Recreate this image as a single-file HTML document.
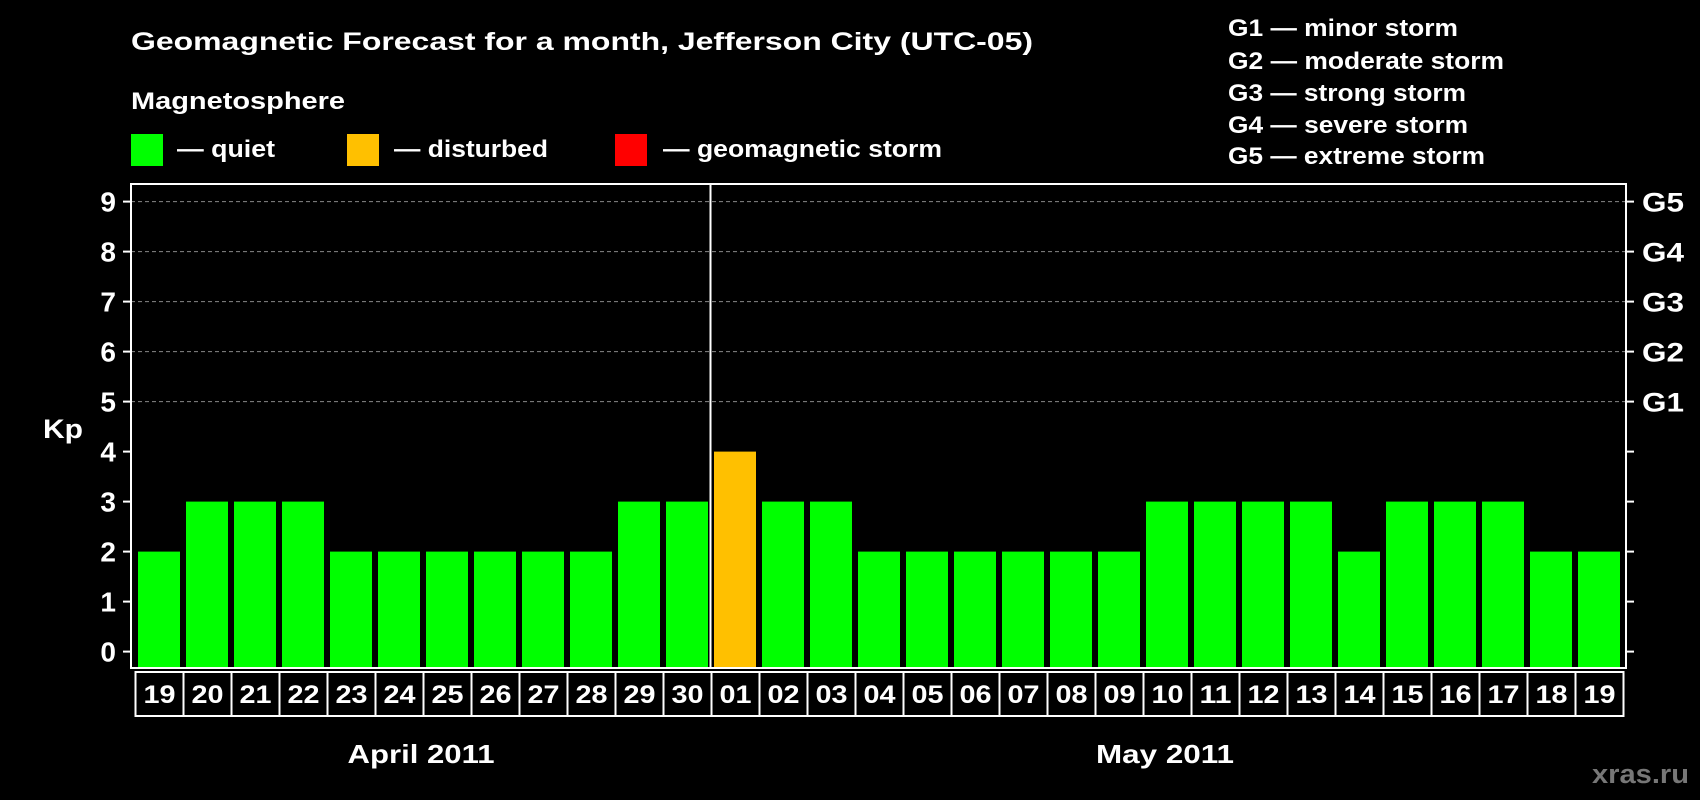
<!DOCTYPE html>
<html><head><meta charset="utf-8"><style>
html,body{margin:0;padding:0;background:#000;}
svg{display:block;font-family:"Liberation Sans",Arial,sans-serif;font-weight:bold;}
</style></head><body>
<svg id="chart" width="1700" height="800" viewBox="0 0 1700 800">
<rect x="0" y="0" width="1700" height="800" fill="#000"/>
<text x="131" y="50" fill="#fff" font-size="25" textLength="902" lengthAdjust="spacingAndGlyphs">Geomagnetic Forecast for a month, Jefferson City (UTC-05)</text>
<text x="131" y="109" fill="#fff" font-size="24" textLength="214" lengthAdjust="spacingAndGlyphs">Magnetosphere</text>
<g>
<rect x="131" y="134" width="32" height="32" fill="#00ff00"/>
<text x="177" y="157" fill="#fff" font-size="24" textLength="98" lengthAdjust="spacingAndGlyphs">— quiet</text></g>
<g>
<rect x="347" y="134" width="32" height="32" fill="#ffc000"/>
<text x="394" y="157" fill="#fff" font-size="24" textLength="154" lengthAdjust="spacingAndGlyphs">— disturbed</text></g>
<g>
<rect x="615" y="134" width="32" height="32" fill="#ff0000"/>
<text x="663" y="157" fill="#fff" font-size="24" textLength="279" lengthAdjust="spacingAndGlyphs">— geomagnetic storm</text></g>
<g fill="#fff" font-size="24">
<text x="1228" y="36" textLength="230" lengthAdjust="spacingAndGlyphs">G1 — minor storm</text>
<text x="1228" y="69" textLength="276" lengthAdjust="spacingAndGlyphs">G2 — moderate storm</text>
<text x="1228" y="101" textLength="238" lengthAdjust="spacingAndGlyphs">G3 — strong storm</text>
<text x="1228" y="133" textLength="240" lengthAdjust="spacingAndGlyphs">G4 — severe storm</text>
<text x="1228" y="164" textLength="257" lengthAdjust="spacingAndGlyphs">G5 — extreme storm</text>
</g>
<text x="43" y="438" fill="#fff" font-size="27" textLength="40" lengthAdjust="spacingAndGlyphs">Kp</text>
<g id="plot"></g>
<text x="421" y="763" fill="#fff" font-size="26" text-anchor="middle" textLength="147" lengthAdjust="spacingAndGlyphs">April 2011</text>
<text x="1165" y="763" fill="#fff" font-size="26" text-anchor="middle" textLength="138" lengthAdjust="spacingAndGlyphs">May 2011</text>
<text x="1689" y="783" fill="#777" font-size="27" text-anchor="end" textLength="97" lengthAdjust="spacingAndGlyphs">xras.ru</text>
</svg>
<script>
const days = ["19","20","21","22","23","24","25","26","27","28","29","30","01","02","03","04","05","06","07","08","09","10","11","12","13","14","15","16","17","18","19"];
const kpValues = [2,3,3,3,2,2,2,2,2,2,3,3,4,3,3,2,2,2,2,2,2,3,3,3,3,2,3,3,3,2,2];
const yTicks = [0,1,2,3,4,5,6,7,8,9];
const gLabels = ["G1","G2","G3","G4","G5"];
const gLevels = [5,6,7,8,9];

const NS="http://www.w3.org/2000/svg";
const plotG=document.getElementById('plot');
const plotLeft=131,plotRight=1626,plotTop=184,plotBottom=668;
const x0=135.5, slot=48;
function yScale(v){return 651.6 - v*50;}
function xs(i){return x0+i*slot;}
function mk(t,a){const e=document.createElementNS(NS,t);for(const k in a)e.setAttribute(k,a[k]);plotG.appendChild(e);return e;}
function color(v){return v>=5?"#ff0000":(v>=4?"#ffc000":"#00ff00");}

yTicks.forEach(v=>{
  if(v>=5){const l=mk('line',{x1:plotLeft,x2:plotRight,y1:yScale(v),y2:yScale(v),stroke:'#888','stroke-width':1,'stroke-dasharray':'4,3'});
  
  }
  const t1=mk('line',{x1:plotLeft-8,x2:plotLeft,y1:yScale(v),y2:yScale(v),stroke:'#fff','stroke-width':2});
  
  
  const t2=mk('line',{x1:plotRight,x2:plotRight+8,y1:yScale(v),y2:yScale(v),stroke:'#fff','stroke-width':2});
  
  
  const tx=mk('text',{x:116,y:yScale(v)+10,fill:'#fff','font-size':28,'text-anchor':'end'});
  tx.textContent=v;
  
  
});
gLabels.forEach((s,i)=>{
  const tx=mk('text',{x:1642,y:yScale(gLevels[i])+10,fill:'#fff','font-size':27,textLength:42,lengthAdjust:'spacingAndGlyphs'});
  tx.textContent=s;
  
  
});
kpValues.forEach((v,i)=>{
  const r=mk('rect',{x:xs(i)+2.5,y:yScale(v),width:42,height:plotBottom-yScale(v),fill:color(v)});
  
  
  const b=mk('rect',{x:xs(i),y:plotBottom+4,width:slot,height:44,fill:'none',stroke:'#fff','stroke-width':2});
  
  
  const t=mk('text',{x:xs(i)+slot/2,y:plotBottom+35,fill:'#fff','font-size':25,'text-anchor':'middle',textLength:32,lengthAdjust:'spacingAndGlyphs'});
  t.textContent=days[i];
  
  
});
const sep=mk('line',{x1:xs(12)-1,x2:xs(12)-1,y1:plotTop,y2:plotBottom,stroke:'#fff','stroke-width':2});


const fr=mk('rect',{x:plotLeft,y:plotTop,width:plotRight-plotLeft,height:plotBottom-plotTop,fill:'none',stroke:'#fff','stroke-width':2});


</script>
</body></html>
